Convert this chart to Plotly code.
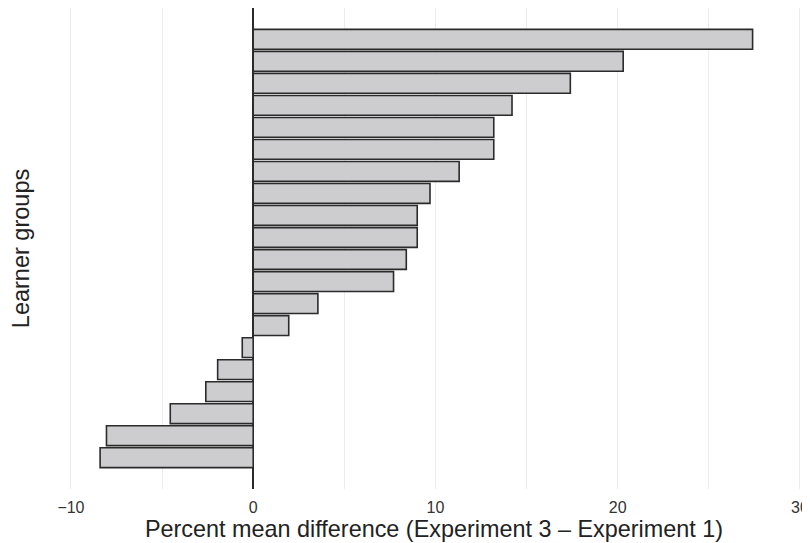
import plotly.graph_objects as go

groups = [f"Group {i}" for i in range(1, 21)]
diffs = [27.4, 20.3, 17.4, 14.2, 13.2, 13.2, 11.3, 9.7, 9.0, 9.0,
         8.4, 7.7, 3.55, 1.95, -0.6, -1.95, -2.6, -4.55, -8.05, -8.4]
tick_vals = [-10, -5, 0, 5, 10, 15, 20, 25, 30]
tick_text = ["\u221210", "", "0", "", "10", "", "20", "", "30"]

fig = go.Figure(go.Bar(
    x=diffs, y=groups, orientation="h", width=0.9,
    marker=dict(color="#cdcdcf", line=dict(color="#2b2b2b", width=1.6)),
))

# The page body adds an 8px offset, so the figure is sized to the visible area.
fig.update_layout(
    width=802, height=535,
    margin=dict(l=52, r=2, t=0, b=54),
    plot_bgcolor="white", paper_bgcolor="white",
    font=dict(family="Liberation Sans, Arial, sans-serif", color="#222"),
    showlegend=False,
    bargap=0.1,
)
fig.update_xaxes(
    range=[-10.6, 30.44],
    tickvals=tick_vals, ticktext=tick_text,
    showgrid=True, gridcolor="#ececec", gridwidth=1,
    zeroline=True, zerolinecolor="#2b2b2b", zerolinewidth=1.6,
    ticks="", tickfont=dict(size=16, color="#333"), ticklabelstandoff=7,
    ticklabeloverflow="allow",
    title=dict(text="Percent mean difference (Experiment 3 \u2013 Experiment 1)",
               font=dict(size=23.4, color="#222"), standoff=1),
    showline=False, automargin=False,
)
fig.update_yaxes(
    categoryorder="array", categoryarray=groups[::-1],
    range=[-1.42, 20.42],
    showticklabels=False, showgrid=False, zeroline=False, ticks="",
    title=dict(text="Learner groups", font=dict(size=23.5, color="#222"), standoff=26),
    automargin=False,
)

fig.write_html("out.html")
